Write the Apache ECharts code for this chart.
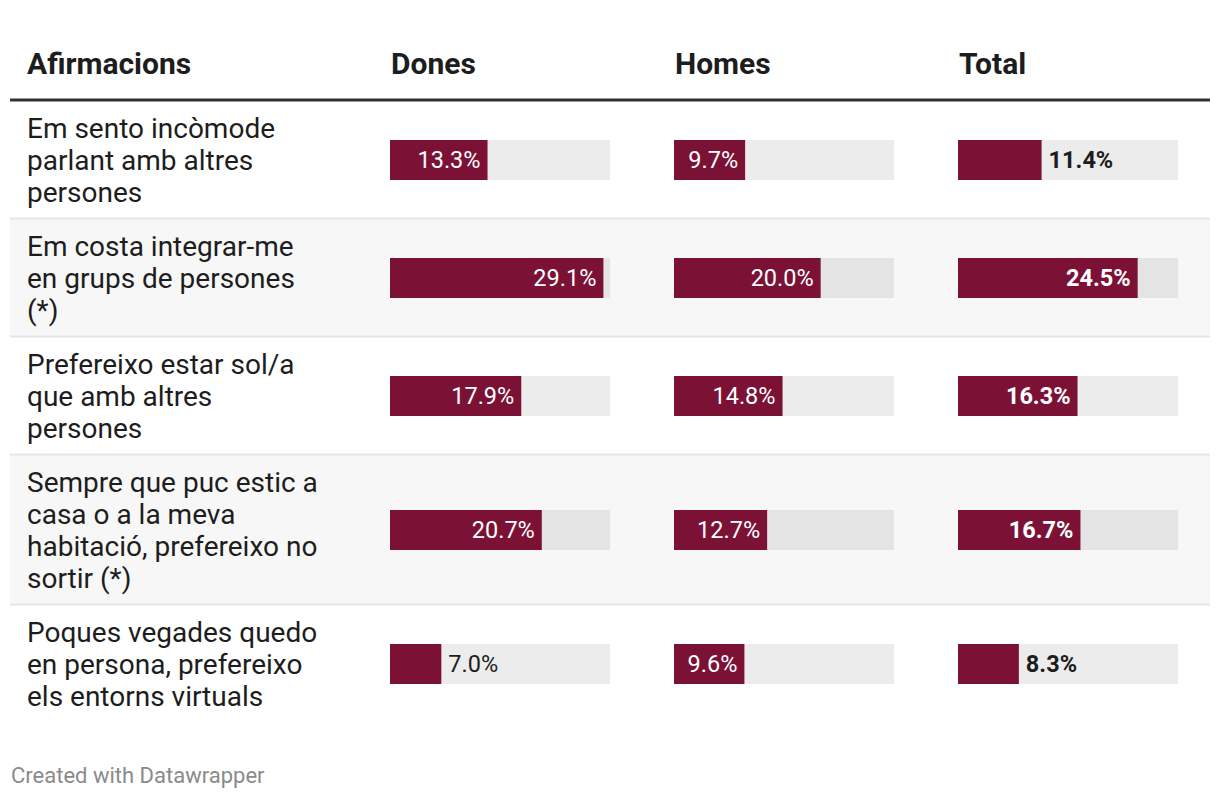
<!DOCTYPE html>
<html>
<head>
<meta charset="utf-8">
<script src="https://cdn.jsdelivr.net/npm/echarts@6/dist/echarts.min.js"></script>
<style>
html,body{margin:0;padding:0;background:#fff;}
#chart{width:1220px;height:798px;}
</style>
</head>
<body>
<div id="chart"></div>
<script>
// ---- data ----
const headerFirst = 'Afirmacions';
const columns = ['Dones', 'Homes', 'Total'];
const categories = [
  'Em sento incòmode\nparlant amb altres\npersones',
  'Em costa integrar-me\nen grups de persones\n(*)',
  'Prefereixo estar sol/a\nque amb altres\npersones',
  'Sempre que puc estic a\ncasa o a la meva\nhabitació, prefereixo no\nsortir (*)',
  'Poques vegades quedo\nen persona, prefereixo\nels entorns virtuals'
];
const dones = [13.3, 29.1, 17.9, 20.7, 7.0];
const homes = [9.7, 20.0, 14.8, 12.7, 9.6];
const total = [11.4, 24.5, 16.3, 16.7, 8.3];
const footer = 'Created with Datawrapper';

// ---- layout / style ----
const FONT = 'Roboto, "Noto Sans", sans-serif';
const BODY = 28, HEAD = 30, VAL = 23.5, FOOT = 22;
const LINE = 32;
const BAR = '#7b1236';
const TRACK = 'rgba(0,0,0,0.075)';
const colX = [391, 675, 959];
const barX = [390, 674, 958];
const barW = 220, barH = 40;
const axisMax = 30;
const insideMin = [10, 9, 14];
const boldCol = [false, false, true];
const tableL = 10, tableR = 1210;
const headerLineY = 100;

const seriesData = [dones, homes, total];

// row geometry
let rows = [];
let y = headerLineY + 1;
categories.forEach((c) => {
  const n = c.split('\n').length;
  const h = n * LINE + 22;
  rows.push({top: y, h: h, mid: y + h / 2});
  y += h;
});

const grid = [], xAxis = [], yAxis = [], series = [];
const graphic = [];

// row backgrounds and separators
rows.forEach((r, i) => {
  if (i % 2 === 1) {
    graphic.push({type: 'rect', shape: {x: tableL, y: r.top, width: tableR - tableL, height: r.h},
      style: {fill: '#f7f7f7'}, z: -10, silent: true});
  }
  if (i < rows.length - 1) {
    graphic.push({type: 'rect', shape: {x: tableL, y: r.top + r.h - 1.5, width: tableR - tableL, height: 2},
      style: {fill: '#e6e6e6'}, z: -5, silent: true});
  }
  graphic.push({type: 'text', x: 27, y: r.mid, z: 10, silent: true,
    style: {text: categories[i], font: BODY + 'px ' + FONT, fill: '#1d1d1d',
      lineHeight: LINE, verticalAlign: 'middle', align: 'left'}});
});

// header
graphic.push({type: 'rect', shape: {x: tableL, y: headerLineY - 1.5, width: tableR - tableL, height: 3},
  style: {fill: '#333333'}, silent: true});
const headers = [headerFirst].concat(columns);
const headerXs = [27].concat(colX);
headers.forEach((t, i) => {
  graphic.push({type: 'text', x: headerXs[i], y: 63, silent: true,
    style: {text: t, font: 'bold ' + HEAD + 'px ' + FONT, fill: '#1d1d1d', verticalAlign: 'middle', align: 'left'}});
});
graphic.push({type: 'text', x: 11, y: 775, silent: true,
  style: {text: footer, font: FOOT + 'px ' + FONT, fill: '#8a8a8a', verticalAlign: 'middle', align: 'left'}});

// bar cells
let gi = 0;
rows.forEach((r, ri) => {
  seriesData.forEach((vals, ci) => {
    grid.push({left: barX[ci], top: r.mid - barH / 2, width: barW, height: barH, containLabel: false});
    xAxis.push({type: 'value', gridIndex: gi, min: 0, max: axisMax, show: false});
    yAxis.push({type: 'category', gridIndex: gi, data: [categories[ri]], show: false});
    const v = vals[ri];
    const inside = v >= insideMin[ci];
    series.push({
      type: 'bar', xAxisIndex: gi, yAxisIndex: gi, barWidth: barH,
      data: [v], itemStyle: {color: BAR},
      showBackground: true, backgroundStyle: {color: TRACK},
      silent: true, animation: false,
      label: {
        show: true,
        position: inside ? 'insideRight' : 'right',
        distance: 7,
        color: inside ? '#ffffff' : '#1d1d1d',
        fontFamily: FONT, fontSize: VAL,
        fontWeight: boldCol[ci] ? 'bold' : 'normal',
        formatter: (p) => p.value.toFixed(1) + '%'
      }
    });
    gi++;
  });
});

const chart = echarts.init(document.getElementById('chart'), null, {renderer: 'svg'});
chart.setOption({
  animation: false,
  backgroundColor: '#ffffff',
  grid, xAxis, yAxis, series, graphic
});
</script>
</body>
</html>
